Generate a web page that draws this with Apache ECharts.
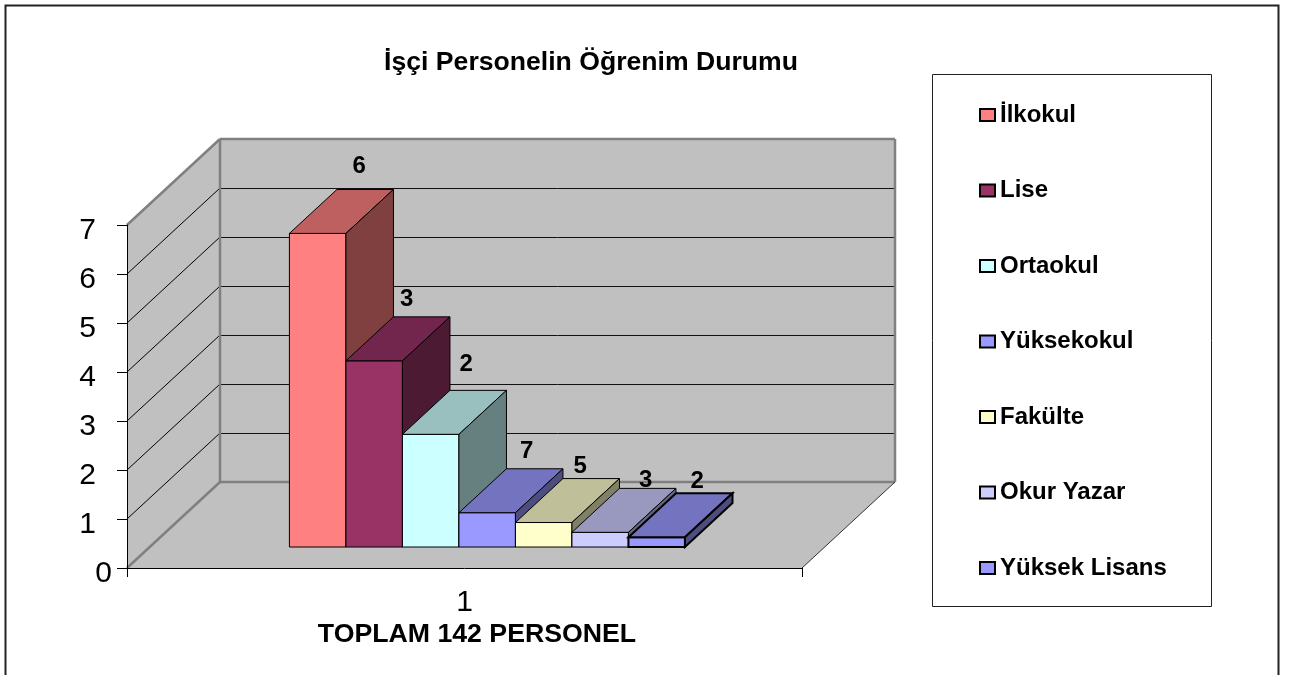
<!DOCTYPE html>
<html>
<head>
<meta charset="utf-8">
<style>html,body{margin:0;padding:0;background:#fff}#c{width:1296px;height:675px}</style>
<script src="https://cdn.jsdelivr.net/npm/echarts@6/dist/echarts.min.js"></script>
</head>
<body>
<div id="c"></div>
<script>
const categories = ['İlkokul','Lise','Ortaokul','Yüksekokul','Fakülte','Okur Yazar','Yüksek Lisans'];
const seriesValues = [6.4,3.8,2.3,0.7,0.5,0.3,0.2];
const dataLabels = ['6','3','2','7','5','3','2'];
const xLabels = ['1'];
const yMax = 7;
const seriesColors = ['#FF8080','#993366','#CCFFFF','#9999FF','#FFFFCC','#CCCCFF','#9999FF'];
const titleText = 'İşçi Personelin Öğrenim Durumu';
const xTitleText = 'TOPLAM 142 PERSONEL';

// pixel nudges of the data labels, relative to the back-top centre of each bar
const labelNudge = [[-6,-23],[-15,-17],[-12,-26],[-8,-17],[-11,-12],[-2,-8],[-7,-12]];
// oblique projection of the depth direction
const DX = 93, DY = -86, D0 = 0.244, D1 = 0.755, BARS_FRAC = 0.586;
const FONT = '"Liberation Sans", Arial, sans-serif';

function shade(hex, k){
  const n = parseInt(hex.slice(1),16);
  const c = [n>>16&255,n>>8&255,n&255].map(v=>Math.round(v*k));
  return 'rgb('+c.join(',')+')';
}
function poly(points, fill, stroke, lw){
  return {type:'polygon',shape:{points},style:{fill,stroke,lineWidth:lw}};
}
function line(a,b,stroke,lw){
  return {type:'line',shape:{x1:a[0],y1:a[1],x2:b[0],y2:b[1]},style:{stroke,lineWidth:lw}};
}
const px = v => Math.round(v) + 0.5;

function renderWalls(params, api){
  const band = api.size([1,0])[0];
  const c0 = api.coord([0,0]);
  const x0 = c0[0]-band/2, x1 = c0[0]+band/2, y0 = c0[1];
  const yT = api.coord([0,yMax])[1];
  const wall = '#C0C0C0', edge = '#808080';
  const ch = [
    poly([[x0,y0],[x1,y0],[x1+DX,y0+DY],[x0+DX,y0+DY]],wall,null,0),
    poly([[x0,y0],[x0+DX,y0+DY],[x0+DX,yT+DY],[x0,yT]],wall,null,0),
    poly([[x0+DX,y0+DY],[x1+DX,y0+DY],[x1+DX,yT+DY],[x0+DX,yT+DY]],wall,null,0)
  ];
  for(let v=1;v<yMax;v++){
    const y = api.coord([0,v])[1];
    ch.push(line([x0,y],[x0+DX,y+DY],'#000',1));
    const yb = px(y+DY);
    ch.push(line([x0+DX,yb],[x1+DX,yb],'#111',1));
  }
  ch.push(line([x0,y0],[x0+DX,y0+DY],edge,2.5));
  ch.push(line([x0,yT],[x0+DX,yT+DY],edge,2.5));
  ch.push(line([x0+DX,yT+DY],[x1+DX,yT+DY],edge,2.5));
  ch.push(line([x0+DX,yT+DY],[x0+DX,y0+DY],edge,2.5));
  ch.push(line([x0+DX,y0+DY],[x1+DX,y0+DY],edge,2.5));
  ch.push(line([x1+DX,yT+DY],[x1+DX,y0+DY],edge,2.5));
  ch.push(line([x1,y0],[x1+DX,y0+DY],'#333',1));
  return {type:'group',children:ch};
}

function barRenderer(i){
  return function(params, api){
    const band = api.size([1,0])[0];
    const cx = api.coord([0,0])[0];
    const y0 = api.coord([0,0])[1];
    const yv = api.coord([0,api.value(1)])[1];
    const w = band*BARS_FRAC/categories.length;
    const fx = cx - band*BARS_FRAC/2 + i*w + DX*D0;
    const top = yv + DY*D0, bot = y0 + DY*D0;
    const ddx = DX*(D1-D0), ddy = DY*(D1-D0);
    const col = seriesColors[i];
    const lw = i===categories.length-1 ? 2 : 1;
    const st = '#000';
    const L = fx, R = fx+w;
    return {type:'group',children:[
      poly([[L,bot],[R,bot],[R,top],[L,top]],col,st,lw),
      poly([[L,top],[R,top],[R+ddx,top+ddy],[L+ddx,top+ddy]],shade(col,.75),st,lw),
      poly([[R,top],[R+ddx,top+ddy],[R+ddx,bot+ddy],[R,bot]],shade(col,.5),st,lw),
      {type:'text',z2:10,style:{
        text:dataLabels[i],
        x:(L+R)/2+ddx+labelNudge[i][0], y:top+ddy+labelNudge[i][1],
        fill:'#000', font:'bold 24px '+FONT, align:'center', verticalAlign:'middle'
      }}
    ]};
  };
}

const series = [{
  type:'custom', name:'walls', z:1, silent:true, clip:false,
  renderItem:renderWalls, data:[[0,0]], encode:{x:0,y:1}
}];
categories.forEach((name,i)=>{
  series.push({
    type:'custom', name, z:2+i, silent:true, clip:false,
    itemStyle:{color:seriesColors[i],borderColor:'#000',borderWidth:i===categories.length-1?2:1},
    renderItem:barRenderer(i), data:[[0,seriesValues[i]]], encode:{x:0,y:1}
  });
});

const chart = echarts.init(document.getElementById('c'),null,{renderer:'canvas'});
chart.setOption({
  animation:false,
  backgroundColor:'#fff',
  textStyle:{fontFamily:FONT},
  title:[
    {text:titleText,left:591,top:49,textAlign:'center',padding:0,
     textStyle:{fontSize:26.6,fontWeight:'bold',color:'#000',fontFamily:FONT}},
    {text:xTitleText,left:477,top:621,textAlign:'center',padding:0,
     textStyle:{fontSize:26.7,fontWeight:'bold',color:'#000',fontFamily:FONT}}
  ],
  grid:{left:127,top:225,width:675,height:343,containLabel:false},
  xAxis:{type:'category',data:xLabels,z:5,boundaryGap:true,
    axisLine:{lineStyle:{color:'#000',width:1}},
    axisTick:{show:true,length:9,lineStyle:{color:'#000'}},
    axisLabel:{fontSize:30,color:'#000',margin:20,fontFamily:FONT}},
  yAxis:{type:'value',min:0,max:yMax,interval:1,z:5,
    splitLine:{show:false},
    axisLine:{show:true,lineStyle:{color:'#000',width:1}},
    axisTick:{show:true,length:10,lineStyle:{color:'#000'}},
    axisLabel:{margin:15,fontFamily:FONT,color:'#000',fontSize:30,
      formatter:v=>v===0?'{z|0}':'{n|'+v+'}',
      rich:{
        n:{fontSize:30,color:'#000',fontFamily:FONT,padding:[12,16,0,0]},
        z:{fontSize:30,color:'#000',fontFamily:FONT,padding:[12,0,0,0]}
      }}},
  legend:{
    orient:'vertical',left:979,top:103,padding:0,itemWidth:15,itemHeight:12,itemGap:51.5,
    selectedMode:false,data:categories,icon:'rect',
    textStyle:{fontSize:24,fontWeight:'bold',color:'#000',fontFamily:FONT}
  },
  graphic:[
    {type:'rect',z:-1,silent:true,shape:{x:5.5,y:5.5,width:1273,height:700},style:{fill:'none',stroke:'#222',lineWidth:2}},
    {type:'rect',z:-1,silent:true,shape:{x:932.5,y:74.5,width:279,height:532},style:{fill:'#fff',stroke:'#222',lineWidth:1}}
  ],
  series
});
</script>
</body>
</html>
